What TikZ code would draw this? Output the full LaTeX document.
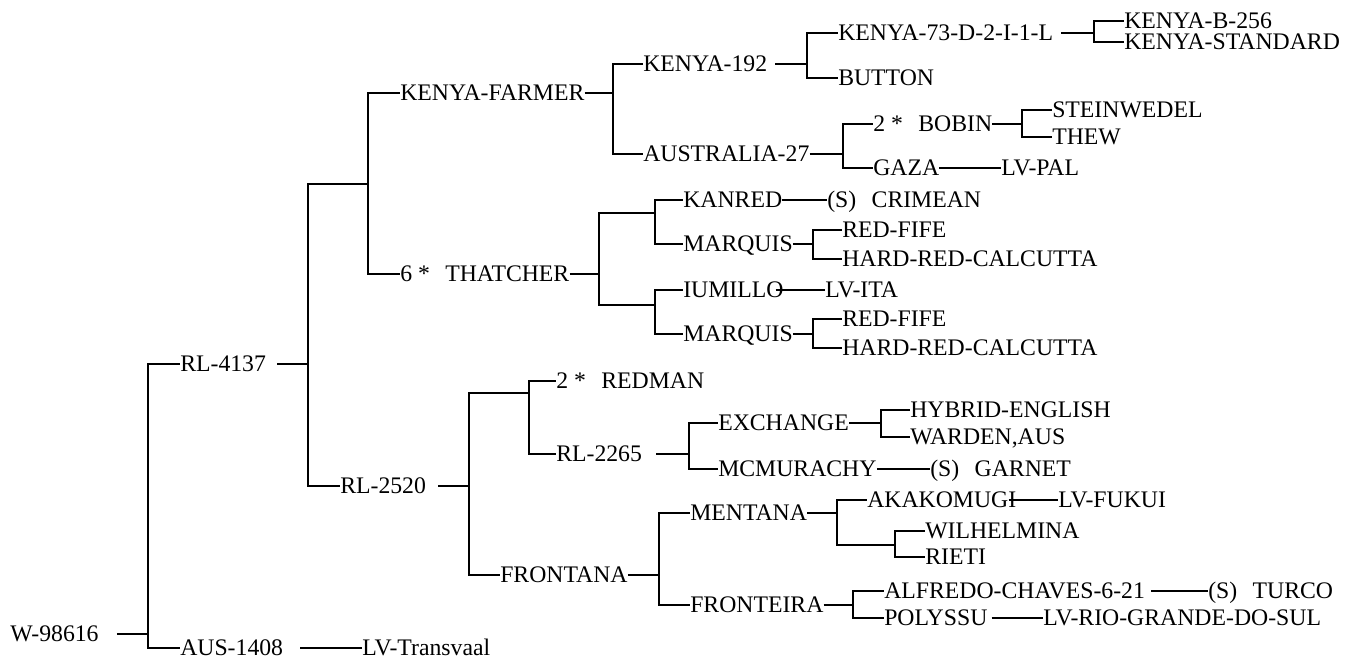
\documentclass[tikz,border=0pt]{standalone}
\usepackage{fontspec}
\setmainfont{Liberation Serif}
\newcommand{\gp}{\hspace{0.65em}}

\begin{document}
\begin{tikzpicture}[x=0.75pt, y=-0.75pt,
    lbl/.style={anchor=west, inner sep=0pt, text height=11.8pt, text depth=0pt,
                font=\fontsize{17.8pt}{20pt}\selectfont},
    br/.style={line width=1.5pt}]
    \useasboundingbox (0,0) rectangle (1365,664);

    % --- 1. 뿌리 ---
    \node[lbl] (w98616) at (10,634) {W-98616};
    \coordinate (j0) at (148,634);
    \node[lbl] (rl4137) at (180,364) {RL-4137};
    \node[lbl] (aus1408) at (180,648) {AUS-1408};
    \node[lbl] (lvtrans) at (362,648) {LV-Transvaal};
    \draw[br] (w98616.east) ++(18,0) -- (j0);
    \draw[br] (j0) |- (rl4137.west);
    \draw[br] (j0) |- (aus1408.west);
    \draw[br] (aus1408.east) ++(17,0) -- (lvtrans.west);

    % --- 2. RL-4137 ---
    \coordinate (j1) at (308,364);
    \coordinate (j2) at (368,184);
    \node[lbl] (rl2520) at (340,486) {RL-2520};
    \draw[br] (rl4137.east) ++(11,0) -- (j1);
    \draw[br] (j1) |- (j2);
    \draw[br] (j1) |- (rl2520.west);

    \node[lbl] (kfarmer) at (400,93) {KENYA-FARMER};
    \node[lbl] (thatcher) at (400,274) {6 *\gp THATCHER};
    \draw[br] (j2) |- (kfarmer.west);
    \draw[br] (j2) |- (thatcher.west);

    % KENYA-FARMER 쪽
    \coordinate (j3) at (613,93);
    \node[lbl] (kenya192) at (643,64) {KENYA-192};
    \node[lbl] (aus27) at (643,154) {AUSTRALIA-27};
    \draw[br] (kfarmer.east) -- (j3);
    \draw[br] (j3) |- (kenya192.west);
    \draw[br] (j3) |- (aus27.west);

    \coordinate (j4) at (807,64);
    \node[lbl] (k73) at (838,33) {KENYA-73-D-2-I-1-L};
    \node[lbl] (button) at (838,78) {BUTTON};
    \draw[br] (kenya192.east) ++(8,0) -- (j4);
    \draw[br] (j4) |- (k73.west);
    \draw[br] (j4) |- (button.west);

    \coordinate (j5) at (1094,33);
    \node[lbl] (kb256) at (1124,21) {KENYA-B-256};
    \node[lbl] (kstd) at (1124,42) {KENYA-STANDARD};
    \draw[br] (k73.east) ++(8,0) -- (j5);
    \draw[br] (j5) |- (kb256.west);
    \draw[br] (j5) |- (kstd.west);

    \coordinate (j6) at (843,154);
    \node[lbl] (bobin) at (873,124) {2 *\gp BOBIN};
    \node[lbl] (gaza) at (873,168) {GAZA};
    \draw[br] (aus27.east) -- (j6);
    \draw[br] (j6) |- (bobin.west);
    \draw[br] (j6) |- (gaza.west);

    \coordinate (j7) at (1022,124);
    \node[lbl] (steinw) at (1052,110) {STEINWEDEL};
    \node[lbl] (thew) at (1052,137) {THEW};
    \node[lbl] (lvpal) at (1001,168) {LV-PAL};
    \draw[br] (bobin.east) -- (j7);
    \draw[br] (j7) |- (steinw.west);
    \draw[br] (j7) |- (thew.west);
    \draw[br] (gaza.east) -- (lvpal.west);

    % THATCHER 쪽
    \coordinate (j8) at (599,274);
    \coordinate (j9) at (655,213);
    \coordinate (j10) at (655,305);
    \draw[br] (thatcher.east) -- (j8);
    \draw[br] (j8) |- (j9);
    \draw[br] (j8) |- (j10);

    \node[lbl] (kanred) at (683,200) {KANRED};
    \node[lbl] (marq1) at (683,244) {MARQUIS};
    \node[lbl] (crimean) at (827,200) {(S)\gp CRIMEAN};
    \draw[br] (j9) |- (kanred.west);
    \draw[br] (j9) |- (marq1.west);
    \draw[br] (kanred.east) -- (crimean.west);

    \coordinate (j11) at (813,244);
    \node[lbl] (fife1) at (842,230) {RED-FIFE};
    \node[lbl] (calc1) at (842,259) {HARD-RED-CALCUTTA};
    \draw[br] (marq1.east) -- (j11);
    \draw[br] (j11) |- (fife1.west);
    \draw[br] (j11) |- (calc1.west);

    \node[lbl] (iumillo) at (683,290) {IUMILLO};
    \node[lbl] (marq2) at (683,334) {MARQUIS};
    \node[lbl] (lvita) at (825,290) {LV-ITA};
    \draw[br] (j10) |- (iumillo.west);
    \draw[br] (j10) |- (marq2.west);
    \draw[br] (iumillo.east) ++(-8,0) -- (lvita.west);

    \coordinate (j12) at (813,334);
    \node[lbl] (fife2) at (842,319) {RED-FIFE};
    \node[lbl] (calc2) at (842,348) {HARD-RED-CALCUTTA};
    \draw[br] (marq2.east) -- (j12);
    \draw[br] (j12) |- (fife2.west);
    \draw[br] (j12) |- (calc2.west);

    % --- 3. RL-2520 ---
    \coordinate (j13) at (469,486);
    \coordinate (j14) at (529,393);
    \node[lbl] (frontana) at (500,575) {FRONTANA};
    \draw[br] (rl2520.east) ++(12,0) -- (j13);
    \draw[br] (j13) |- (j14);
    \draw[br] (j13) |- (frontana.west);

    \node[lbl] (redman) at (556,381) {2 *\gp REDMAN};
    \node[lbl] (rl2265) at (556,454) {RL-2265};
    \draw[br] (j14) |- (redman.west);
    \draw[br] (j14) |- (rl2265.west);

    \coordinate (j15) at (689,454);
    \node[lbl] (exch) at (718,423) {EXCHANGE};
    \node[lbl] (mcmur) at (718,469) {MCMURACHY};
    \draw[br] (rl2265.east) ++(14,0) -- (j15);
    \draw[br] (j15) |- (exch.west);
    \draw[br] (j15) |- (mcmur.west);

    \coordinate (j16) at (881,423);
    \node[lbl] (hybrid) at (910,410) {HYBRID-ENGLISH};
    \node[lbl] (warden) at (910,437) {WARDEN,AUS};
    \node[lbl] (garnet) at (930,469) {(S)\gp GARNET};
    \draw[br] (exch.east) -- (j16);
    \draw[br] (j16) |- (hybrid.west);
    \draw[br] (j16) |- (warden.west);
    \draw[br] (mcmur.east) -- (garnet.west);

    % FRONTANA 쪽
    \coordinate (j17) at (659,575);
    \node[lbl] (mentana) at (690,513) {MENTANA};
    \node[lbl] (fronteira) at (690,605) {FRONTEIRA};
    \draw[br] (frontana.east) -- (j17);
    \draw[br] (j17) |- (mentana.west);
    \draw[br] (j17) |- (fronteira.west);

    \coordinate (j18) at (837,513);
    \coordinate (j19) at (895,545);
    \node[lbl] (akako) at (867,500) {AKAKOMUGI};
    \node[lbl] (lvfukui) at (1058,500) {LV-FUKUI};
    \draw[br] (mentana.east) -- (j18);
    \draw[br] (j18) |- (akako.west);
    \draw[br] (j18) |- (j19);
    \draw[br] (akako.east) ++(-8,0) -- (lvfukui.west);

    \node[lbl] (wilh) at (925,531) {WILHELMINA};
    \node[lbl] (rieti) at (925,557) {RIETI};
    \draw[br] (j19) |- (wilh.west);
    \draw[br] (j19) |- (rieti.west);

    \coordinate (j20) at (853,605);
    \node[lbl] (alfredo) at (884,591) {ALFREDO-CHAVES-6-21};
    \node[lbl] (polyssu) at (884,618) {POLYSSU};
    \node[lbl] (turco) at (1208,591) {(S)\gp TURCO};
    \node[lbl] (lvrio) at (1043,618) {LV-RIO-GRANDE-DO-SUL};
    \draw[br] (fronteira.east) -- (j20);
    \draw[br] (j20) |- (alfredo.west);
    \draw[br] (j20) |- (polyssu.west);
    \draw[br] (alfredo.east) ++(6,0) -- (turco.west);
    \draw[br] (polyssu.east) ++(4,0) -- (lvrio.west);

\end{tikzpicture}
\end{document}
